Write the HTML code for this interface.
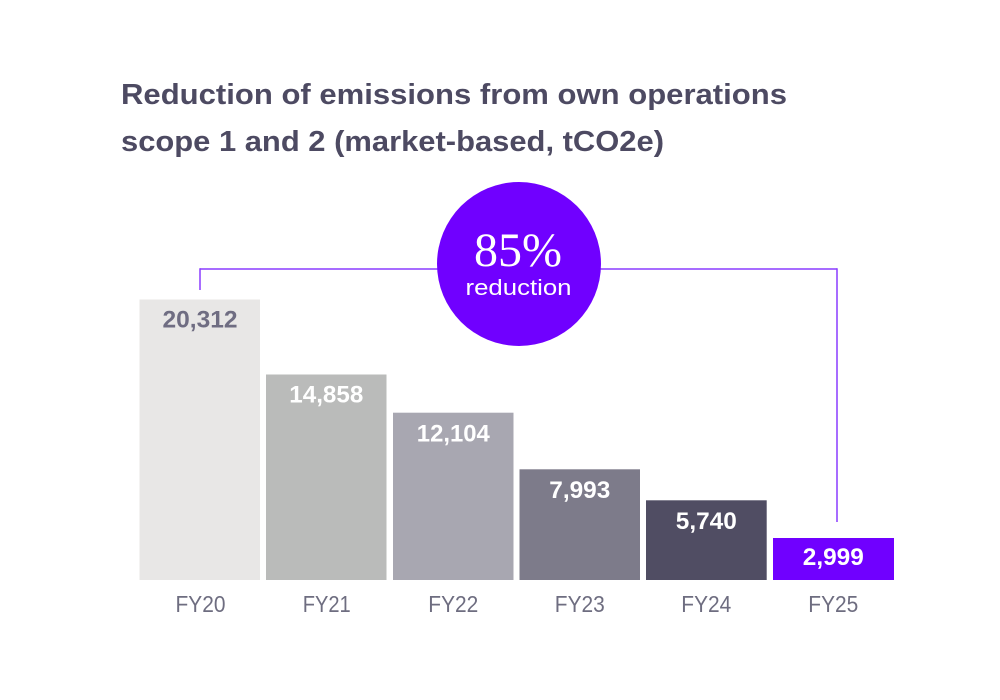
<!DOCTYPE html>
<html>
<head>
<meta charset="utf-8">
<style>
  html,body{margin:0;padding:0;background:#fff;}
  svg{display:block;}
</style>
</head>
<body>
<svg width="1000" height="700" viewBox="0 0 1000 700" xmlns="http://www.w3.org/2000/svg">
  <rect width="1000" height="700" fill="#ffffff"/>
  <!-- Title -->
  <g font-family="Liberation Sans, sans-serif" font-weight="bold" font-size="29" fill="#4d4a62">
    <text x="121" y="104" textLength="666" lengthAdjust="spacingAndGlyphs">Reduction of emissions from own operations</text>
    <text x="121" y="151" textLength="543" lengthAdjust="spacingAndGlyphs">scope 1 and 2 (market-based, tCO2e)</text>
  </g>

  <!-- Bracket -->
  <g stroke="#8a3cff" stroke-width="1.5" fill="none">
    <line x1="200" y1="269" x2="837" y2="269"/>
    <line x1="200" y1="268.25" x2="200" y2="290"/>
    <line x1="837" y1="268.25" x2="837" y2="522"/>
  </g>

  <!-- Circle -->
  <circle cx="519" cy="264" r="82" fill="#7000ff"/>
  <text x="518" y="266" text-anchor="middle" font-family="Liberation Serif, serif" font-size="48" fill="#ffffff">85%</text>
  <text x="518.5" y="295" text-anchor="middle" font-family="Liberation Sans, sans-serif" font-size="22" fill="#ffffff" textLength="106" lengthAdjust="spacingAndGlyphs">reduction</text>

  <!-- Bars -->
  <rect x="139.5" y="299.5" width="120.5" height="280.5" fill="#e8e7e6"/>
  <rect x="266" y="374.5" width="120.5" height="205.5" fill="#babbba"/>
  <rect x="393" y="412.7" width="120.5" height="167.3" fill="#a8a7b1"/>
  <rect x="519.5" y="469.3" width="120.5" height="110.7" fill="#7d7b8a"/>
  <rect x="646" y="500.3" width="120.7" height="79.7" fill="#504d63"/>
  <rect x="773" y="538" width="121" height="42" fill="#7000ff"/>

  <!-- Value labels -->
  <g font-family="Liberation Sans, sans-serif" font-weight="bold" font-size="24" text-anchor="middle">
    <text x="200" y="327.5" fill="#6f6d82" textLength="75" lengthAdjust="spacingAndGlyphs">20,312</text>
    <text x="326.3" y="402.5" fill="#ffffff" textLength="74" lengthAdjust="spacingAndGlyphs">14,858</text>
    <text x="453.3" y="441.5" fill="#ffffff" textLength="73" lengthAdjust="spacingAndGlyphs">12,104</text>
    <text x="579.8" y="498" fill="#ffffff" textLength="61" lengthAdjust="spacingAndGlyphs">7,993</text>
    <text x="706.3" y="529" fill="#ffffff" textLength="61" lengthAdjust="spacingAndGlyphs">5,740</text>
    <text x="833.3" y="565" fill="#ffffff" textLength="61" lengthAdjust="spacingAndGlyphs">2,999</text>
  </g>

  <!-- Category labels -->
  <g font-family="Liberation Sans, sans-serif" font-size="23" fill="#6e6d80" text-anchor="middle">
    <text x="200.5" y="612" textLength="50" lengthAdjust="spacingAndGlyphs">FY20</text>
    <text x="326.7" y="612" textLength="48" lengthAdjust="spacingAndGlyphs">FY21</text>
    <text x="453.3" y="612" textLength="50" lengthAdjust="spacingAndGlyphs">FY22</text>
    <text x="579.8" y="612" textLength="50" lengthAdjust="spacingAndGlyphs">FY23</text>
    <text x="706.3" y="612" textLength="50" lengthAdjust="spacingAndGlyphs">FY24</text>
    <text x="833.3" y="612" textLength="50" lengthAdjust="spacingAndGlyphs">FY25</text>
  </g>
</svg>
</body>
</html>
